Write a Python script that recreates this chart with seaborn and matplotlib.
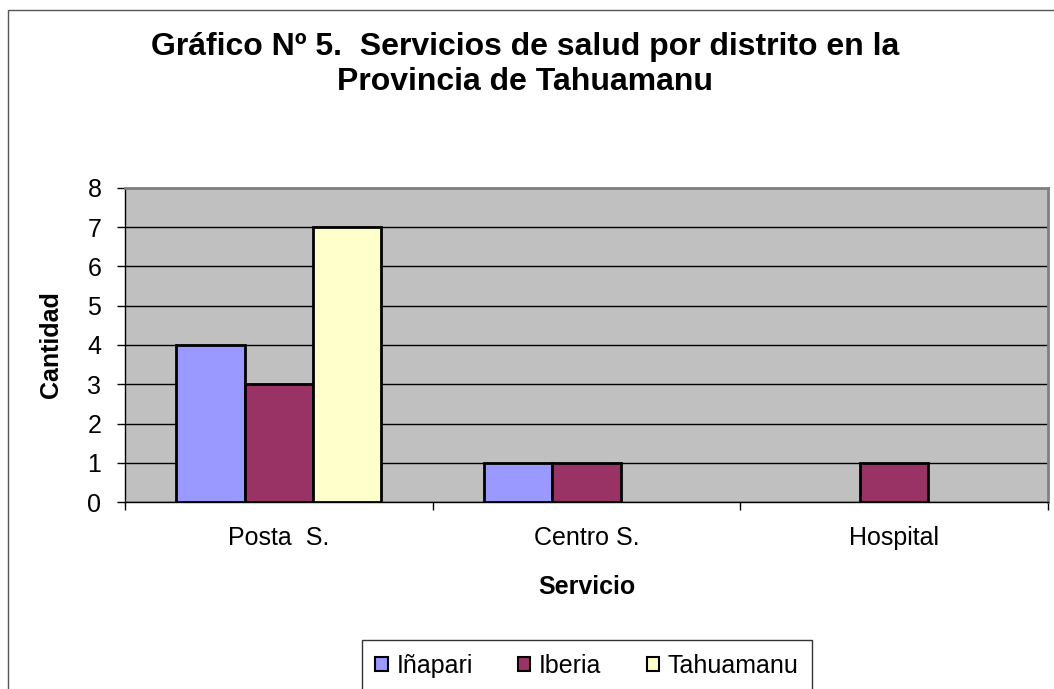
"""
Grafico N 5 - servicios de salud por distrito, Provincia de Tahuamanu.
Barras agrupadas estilo Excel con seaborn.
"""

import pandas as pd
import matplotlib
matplotlib.use("Agg")
import matplotlib.pyplot as plt
from matplotlib.patches import Rectangle
import seaborn as sns

# datos
servicios = ["Posta  S.", "Centro S.", "Hospital"]
distritos = ["Iñapari", "Iberia", "Tahuamanu"]
inapari = [4, 1, 0]
iberia = [3, 1, 1]
tahuamanu = [7, 0, 0]
colores = ["#9999FF", "#993366", "#FFFFCC"]
yticks = list(range(0, 9))

titulo = "Gráfico Nº 5.  Servicios de salud por distrito en la\nProvincia de Tahuamanu"

df = pd.DataFrame({
    "Servicio": servicios * 3,
    "Distrito": [d for d in distritos for _ in servicios],
    "Cantidad": inapari + iberia + tahuamanu,
})

sns.set_theme(style="white")
plt.rcParams["font.family"] = ["Liberation Sans", "DejaVu Sans"]
plt.rcParams["text.color"] = "black"
plt.rcParams["axes.labelcolor"] = "black"
plt.rcParams["xtick.color"] = "black"
plt.rcParams["ytick.color"] = "black"

fig = plt.figure(figsize=(10.54, 6.89), dpi=100)
ax = fig.add_axes([125 / 1054, 1 - 502 / 689, 923 / 1054, 314 / 689])

sns.barplot(
    data=df, x="Servicio", y="Cantidad", hue="Distrito",
    order=servicios, hue_order=distritos, palette=colores,
    edgecolor="black", linewidth=2, width=0.667, saturation=1,
    ax=ax, zorder=3,
)

# quitar borde de barras con valor cero
for p in ax.patches:
    if p.get_height() == 0:
        p.set_linewidth(0)

ax.set_facecolor("#C0C0C0")
ax.set_ylim(0, 8)
ax.set_xlim(-0.5, 2.5)
ax.set_yticks(yticks)
ax.yaxis.grid(True, color="black", linewidth=1)
ax.set_axisbelow(True)

for side in ["top", "right"]:
    ax.spines[side].set_color("#808080")
    ax.spines[side].set_linewidth(2)
for side in ["left", "bottom"]:
    ax.spines[side].set_color("black")
    ax.spines[side].set_linewidth(1)

ax.tick_params(axis="y", direction="out", length=6, width=1, color="black",
               labelsize=18, pad=11, left=True)
ax.tick_params(axis="x", which="major", length=0, labelsize=18, pad=17)
ax.set_xticks([-0.5, 0.5, 1.5, 2.5], minor=True)
ax.tick_params(axis="x", which="minor", direction="out", length=6, width=1,
               color="black", bottom=True)

ax.set_xlabel("Servicio", fontsize=18, fontweight="bold", va="center")
ax.set_ylabel("Cantidad", fontsize=18, fontweight="bold", va="center")
ax.xaxis.set_label_coords(0.5, (502 - 587) / 314)
ax.yaxis.set_label_coords((51 - 125) / 923, 0.5)

fig.text(0.498, 1 - 32 / 689, titulo, ha="center", va="top",
         fontsize=23, fontweight="bold", linespacing=1.2)

# leyenda abajo con recuadro
handles, labels = ax.get_legend_handles_labels()
ax.legend_.remove()
leg = fig.legend(handles, labels, loc="upper center",
                 bbox_to_anchor=(587 / 1054, 1 - 640 / 689), ncol=3,
                 fontsize=18, frameon=True, fancybox=False,
                 edgecolor="black", handlelength=0.5, handleheight=0.5,
                 handletextpad=0.35, columnspacing=1.8, borderpad=0.55,
                 borderaxespad=0)
leg.get_frame().set_linewidth(1)
for h in leg.legend_handles:
    h.set_linewidth(1.5)

# marco exterior del grafico
fig.patches.append(Rectangle((8 / 1054, -0.05), 1.1, 1 - 10 / 689 + 0.05,
                             transform=fig.transFigure, fill=False,
                             edgecolor="#555555", linewidth=1))

fig.savefig("out.png", dpi=100)
